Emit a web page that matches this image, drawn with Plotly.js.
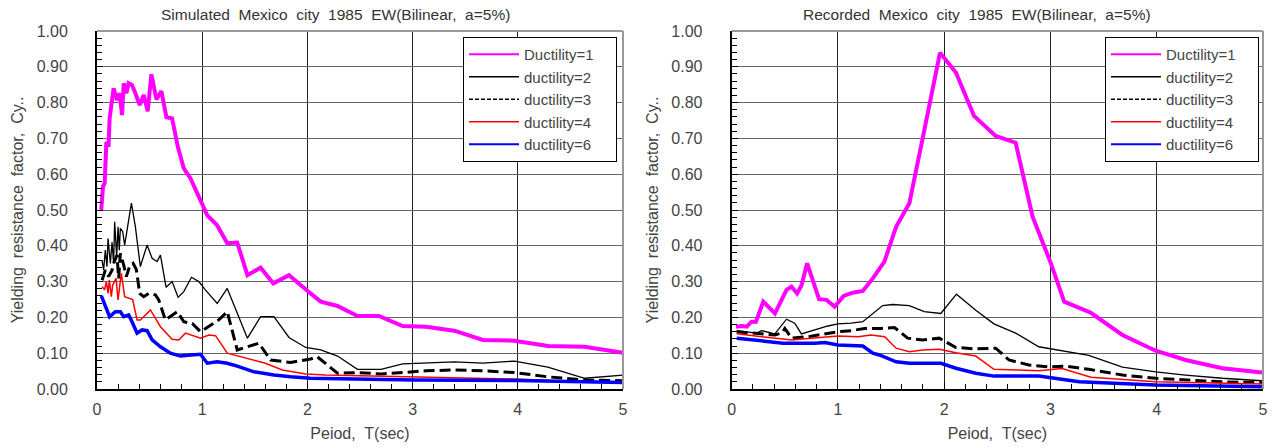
<!DOCTYPE html>
<html>
<head>
<meta charset="utf-8">
<script src="https://cdn.plot.ly/plotly-3.0.1.min.js"></script>
<style>html,body{margin:0;padding:0;background:#fff;}#chart{width:1277px;height:448px;}</style>
</head>
<body>
<div id="chart"></div>
<script>
// ---------- Data ----------
var seriesNames = ["Ductility=1", "ductility=2", "ductility=3", "ductility=4", "ductility=6"];
var leftTitle = "Simulated  Mexico  city  1985  EW(Bilinear,  a=5%)";
var rightTitle = "Recorded  Mexico  city  1985  EW(Bilinear,  a=5%)";
var xTitle = "Peiod,  T(sec)";
var yTitle = "Yielding  resistance  factor,  Cy..";

// Simulated (left)
var simD1x = [0.04,0.057,0.073,0.089,0.11,0.12,0.158,0.19,0.215,0.238,0.254,0.279,0.30,0.333,0.365,0.406,0.444,0.482,0.517,0.565,0.612,0.66,0.714,0.768,0.825,0.889,1.048,1.14,1.238,1.333,1.43,1.555,1.676,1.825,2.03,2.127,2.286,2.476,2.68,2.905,3.127,3.396,3.667,3.968,4.286,4.635,5.0];
var simD1y = [0.50,0.565,0.575,0.69,0.677,0.756,0.84,0.807,0.826,0.765,0.854,0.826,0.854,0.849,0.826,0.793,0.821,0.776,0.879,0.809,0.832,0.759,0.756,0.677,0.616,0.588,0.485,0.458,0.407,0.409,0.318,0.339,0.295,0.318,0.267,0.244,0.232,0.204,0.204,0.176,0.174,0.163,0.137,0.135,0.12,0.118,0.101];

var simD2x = [0.048,0.063,0.079,0.095,0.105,0.127,0.143,0.158,0.168,0.187,0.2,0.212,0.222,0.244,0.263,0.327,0.365,0.412,0.476,0.524,0.571,0.603,0.657,0.714,0.771,0.825,0.898,0.968,1.03,1.143,1.238,1.43,1.555,1.682,1.825,1.984,2.127,2.286,2.476,2.7,2.905,3.127,3.396,3.667,3.968,4.286,4.635,5.0];
var simD2y = [0.36,0.332,0.388,0.342,0.42,0.351,0.41,0.351,0.467,0.37,0.453,0.388,0.449,0.44,0.402,0.519,0.453,0.342,0.402,0.365,0.356,0.374,0.284,0.30,0.256,0.272,0.312,0.30,0.277,0.239,0.281,0.142,0.202,0.202,0.144,0.116,0.109,0.092,0.055,0.055,0.07,0.072,0.076,0.072,0.078,0.061,0.03,0.039];

var simD3x = [0.048,0.079,0.11,0.143,0.158,0.19,0.206,0.222,0.254,0.279,0.311,0.343,0.374,0.406,0.444,0.492,0.555,0.587,0.65,0.762,0.825,0.905,0.984,1.158,1.238,1.333,1.539,1.65,1.84,2.03,2.094,2.286,2.476,2.7,2.905,3.127,3.396,3.667,3.968,4.286,4.635,5.0];
var simD3y = [0.304,0.332,0.314,0.332,0.351,0.374,0.309,0.379,0.346,0.314,0.344,0.351,0.334,0.267,0.258,0.267,0.263,0.249,0.193,0.216,0.188,0.183,0.16,0.193,0.216,0.109,0.128,0.081,0.074,0.084,0.09,0.044,0.046,0.042,0.046,0.051,0.053,0.051,0.046,0.034,0.025,0.023];

var simD4x = [0.048,0.072,0.089,0.105,0.117,0.136,0.149,0.181,0.2,0.231,0.263,0.301,0.339,0.381,0.412,0.508,0.603,0.714,0.777,0.841,0.984,1.063,1.127,1.238,1.412,1.6,1.762,1.984,2.17,2.9,3.968,4.635,5.0];
var simD4y = [0.286,0.277,0.30,0.267,0.304,0.258,0.29,0.309,0.249,0.323,0.258,0.255,0.25,0.193,0.193,0.221,0.174,0.139,0.137,0.156,0.142,0.151,0.149,0.10,0.086,0.072,0.053,0.042,0.039,0.034,0.028,0.02,0.019];

var simD6x = [0.041,0.063,0.079,0.095,0.12,0.174,0.222,0.254,0.301,0.333,0.381,0.428,0.476,0.524,0.603,0.698,0.793,0.889,0.984,1.048,1.143,1.238,1.333,1.492,1.682,1.84,2.03,3.015,3.99,5.0];
var simD6y = [0.26,0.244,0.235,0.225,0.202,0.216,0.216,0.202,0.207,0.188,0.156,0.165,0.163,0.137,0.118,0.10,0.092,0.095,0.097,0.072,0.076,0.072,0.064,0.048,0.039,0.034,0.03,0.025,0.024,0.018];

// Recorded (right)
var recD1x = [0.04,0.094,0.141,0.188,0.228,0.297,0.407,0.516,0.563,0.616,0.657,0.71,0.822,0.892,0.969,1.053,1.14,1.234,1.328,1.437,1.547,1.672,1.797,1.96,2.11,2.28,2.484,2.672,2.832,3.004,3.129,3.38,3.677,3.99,4.272,4.616,4.99];
var recD1y = [0.174,0.176,0.174,0.188,0.188,0.244,0.211,0.277,0.286,0.267,0.29,0.351,0.251,0.249,0.23,0.26,0.269,0.274,0.309,0.356,0.453,0.519,0.70,0.939,0.884,0.763,0.707,0.688,0.481,0.351,0.244,0.213,0.151,0.107,0.081,0.058,0.046];

var recD2x = [0.047,0.234,0.281,0.406,0.516,0.593,0.656,0.781,0.906,1.0,1.125,1.234,1.312,1.421,1.515,1.671,1.812,1.968,2.115,2.297,2.468,2.672,2.89,3.08,3.36,3.677,3.99,4.27,4.616,4.99];
var recD2y = [0.163,0.156,0.163,0.154,0.195,0.184,0.154,0.165,0.176,0.182,0.184,0.188,0.207,0.233,0.236,0.233,0.216,0.211,0.265,0.22,0.182,0.156,0.118,0.109,0.094,0.061,0.048,0.039,0.03,0.023];

var recD3x = [0.047,0.234,0.406,0.475,0.5,0.531,0.56,0.719,0.875,1.0,1.125,1.25,1.406,1.531,1.656,1.797,1.953,2.11,2.297,2.484,2.61,2.797,2.985,3.13,3.36,3.677,3.99,4.27,4.616,4.99];
var recD3y = [0.16,0.156,0.151,0.157,0.169,0.156,0.142,0.146,0.154,0.16,0.163,0.169,0.169,0.172,0.142,0.137,0.142,0.116,0.112,0.114,0.081,0.067,0.062,0.064,0.055,0.039,0.03,0.025,0.02,0.018];

var recD4x = [0.047,0.234,0.406,0.563,0.75,1.0,1.19,1.31,1.44,1.547,1.672,1.797,1.953,2.11,2.297,2.468,2.7,2.89,3.11,3.27,3.38,3.99,4.99];
var recD4y = [0.154,0.148,0.144,0.137,0.142,0.148,0.146,0.151,0.146,0.114,0.104,0.109,0.111,0.101,0.092,0.055,0.053,0.051,0.057,0.042,0.033,0.02,0.014];

var recD6x = [0.047,0.234,0.38,0.484,0.781,0.875,1.0,1.234,1.328,1.39,1.547,1.672,1.97,2.11,2.297,2.468,2.89,3.02,3.27,3.38,3.99,4.99];
var recD6y = [0.142,0.137,0.132,0.128,0.128,0.13,0.123,0.12,0.10,0.095,0.076,0.072,0.072,0.058,0.044,0.036,0.036,0.03,0.02,0.019,0.011,0.006];

// ---------- Styles ----------
var lineStyles = [
  {color: "#ff00ff", width: 4},
  {color: "#000000", width: 1.3},
  {color: "#000000", width: 3, dash: "11px,5px"},
  {color: "#ff0000", width: 1.5},
  {color: "#0000ff", width: 3.5}
];
var legendStyles = [
  {color: "#ff00ff", width: 2},
  {color: "#000000", width: 1.5},
  {color: "#000000", width: 1.5, dash: "4px,2px"},
  {color: "#ff0000", width: 1.5},
  {color: "#0000ff", width: 2}
];
var fontFam = "Liberation Sans, Arial, sans-serif";
var txtColor = "#444";
var legendPad = "&nbsp;&nbsp;&nbsp;&nbsp;";

var simX = [simD1x, simD2x, simD3x, simD4x, simD6x];
var simY = [simD1y, simD2y, simD3y, simD4y, simD6y];
var recX = [recD1x, recD2x, recD3x, recD4x, recD6x];
var recY = [recD1y, recD2y, recD3y, recD4y, recD6y];

var traces = [];
for (var i = 0; i < 5; i++) {
  traces.push({x: simX[i], y: simY[i], type: "scatter", mode: "lines", name: seriesNames[i],
    line: lineStyles[i], xaxis: "x", yaxis: "y", showlegend: false});
}
for (var j = 0; j < 5; j++) {
  traces.push({x: recX[j], y: recY[j], type: "scatter", mode: "lines", name: seriesNames[j],
    line: lineStyles[j], xaxis: "x2", yaxis: "y2", showlegend: false});
}
// legend entries (thin key lines like the reference)
for (var k = 0; k < 5; k++) {
  traces.push({x: [null], y: [null], type: "scatter", mode: "lines", name: seriesNames[k] + legendPad,
    line: legendStyles[k], xaxis: "x", yaxis: "y", legend: "legend", hoverinfo: "skip"});
}
for (var m = 0; m < 5; m++) {
  traces.push({x: [null], y: [null], type: "scatter", mode: "lines", name: seriesNames[m] + legendPad,
    line: legendStyles[m], xaxis: "x2", yaxis: "y2", legend: "legend2", hoverinfo: "skip"});
}

function xAxis(domain, anchor) {
  return {
    domain: domain, anchor: anchor, range: [0, 5], dtick: 1, tick0: 0,
    showline: true, linecolor: "#000", linewidth: 2, mirror: false,
    showgrid: true, gridcolor: "#222", gridwidth: 1, zeroline: false,
    ticks: "inside", ticklen: 6, tickcolor: "#000", tickwidth: 1,
    minor: {dtick: 0.2, ticks: "inside", ticklen: 5, tickcolor: "#000", showgrid: false},
    ticklabelstandoff: 5,
    tickfont: {family: fontFam, size: 16, color: txtColor},
    title: {text: xTitle, font: {family: fontFam, size: 16, color: txtColor}, standoff: 11},
    automargin: false, fixedrange: true
  };
}
function yAxis(anchor) {
  return {
    anchor: anchor, range: [0, 1], dtick: 0.1, tick0: 0, tickformat: ".2f",
    showline: true, linecolor: "#000", linewidth: 2, mirror: false,
    showgrid: true, gridcolor: "#666", gridwidth: 1, zeroline: false,
    ticks: "inside", ticklen: 6, tickcolor: "#000", tickwidth: 1,
    minor: {dtick: 0.02, ticks: "inside", ticklen: 5, tickcolor: "#000", showgrid: false},
    ticklabelstandoff: 24,
    tickfont: {family: fontFam, size: 16, color: txtColor},
    title: {text: yTitle, font: {family: fontFam, size: 16, color: txtColor}, standoff: 9},
    automargin: false, fixedrange: true
  };
}

var W = 1277;
var legendBase = {
  xanchor: "left", yanchor: "top", bgcolor: "#fff", bordercolor: "#000", borderwidth: 1,
  font: {family: fontFam, size: 15, color: txtColor}, itemwidth: 50, tracegroupgap: 0
};
var leg1 = Object.assign({}, legendBase, {x: 463 / W, y: 0.983});
var leg2 = Object.assign({}, legendBase, {x: 1105 / W, y: 0.983});

function border(xr, yr) {
  return [
    {type: "line", xref: xr + " domain", yref: yr + " domain", x0: 0, x1: 1, y0: 1, y1: 1, line: {color: "#999", width: 2}},
    {type: "line", xref: xr + " domain", yref: yr + " domain", x0: 1, x1: 1, y0: 0, y1: 1, line: {color: "#999", width: 2}}
  ];
}

var layout = {
  width: 1277, height: 448,
  margin: {l: 0, r: 0, t: 31, b: 59},
  paper_bgcolor: "#fff", plot_bgcolor: "#fff",
  showlegend: true,
  xaxis: xAxis([97 / W, 623 / W], "y"),
  yaxis: yAxis("x"),
  xaxis2: xAxis([731.7 / W, 1263 / W], "y2"),
  yaxis2: yAxis("x2"),
  legend: leg1,
  legend2: leg2,
  shapes: border("x", "y").concat(border("x2", "y2")),
  annotations: [
    {text: leftTitle, xref: "paper", yref: "paper", x: 335 / W, y: 1.045, xanchor: "center", yanchor: "middle",
     showarrow: false, font: {family: fontFam, size: 15.5, color: "#333"}},
    {text: rightTitle, xref: "paper", yref: "paper", x: 977 / W, y: 1.045, xanchor: "center", yanchor: "middle",
     showarrow: false, font: {family: fontFam, size: 15.5, color: "#333"}}
  ]
};

Plotly.newPlot("chart", traces, layout, {displayModeBar: false, staticPlot: true});
</script>
</body>
</html>
